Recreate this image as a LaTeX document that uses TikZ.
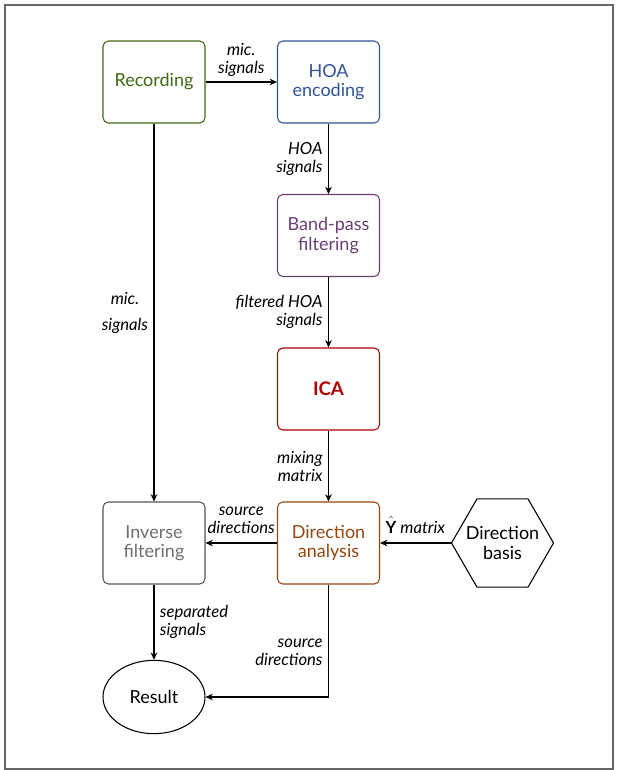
\documentclass[tikz,border=0pt]{standalone}
\usepackage{amsmath}
\usepackage{amssymb}
\usepackage{fontspec}
\setmainfont{Lato}
\usepackage{tikz}
\usepackage{xcolor}
\usetikzlibrary{shapes.geometric,arrows.meta}

\definecolor{recgreen}{HTML}{3E6B12}
\definecolor{hoablue}{HTML}{2F5496}
\definecolor{bandpurple}{HTML}{6B3F73}
\definecolor{icared}{HTML}{B00000}
\definecolor{dirbrown}{HTML}{94470F}
\definecolor{invgray}{HTML}{555555}

\begin{document}
\begin{tikzpicture}
  [x=0.75pt,y=-0.75pt,>={Stealth[length=5.5pt,width=5pt]},
   every node/.style={font=\fontsize{13.5}{14.5}\selectfont,align=center},
   block/.style={draw,rounded corners=4pt,line width=0.8pt,
     minimum width=76.5pt,minimum height=61.5pt,inner sep=0pt},
   lbl/.style={font=\fontsize{12.5}{13.5}\selectfont\itshape,inner sep=4pt},
   link/.style={->,line width=0.8pt}]

  \useasboundingbox (0,0) rectangle (618,770);
  \draw[gray!80!black,line width=1.1pt] (5,5) rectangle (613,769);

  \node[block,draw=recgreen,text=recgreen] (rec) at (154,82) {Recording};
  \node[block,draw=hoablue,text=hoablue] (hoa) at (328.5,82) {HOA\\encoding};
  \node[block,draw=bandpurple,text=bandpurple] (bp) at (328.5,235.5) {Band-pass\\filtering};
  \node[block,draw=icared,text=icared,font=\fontsize{14}{15}\selectfont\bfseries] (ica) at (328.5,389) {ICA};
  \node[block,draw=dirbrown,text=dirbrown] (dir) at (328.5,543) {Direction\\analysis};
  \node[block,draw=invgray,text=invgray!85] (inv) at (154,543) {Inverse\\filtering};
  \node[draw,regular polygon,regular polygon sides=6,minimum size=76.5pt,
    inner sep=0pt,line width=0.8pt,
    label={[align=center]center:Direction\\basis}] (basis) at (502.5,543) {};
  \node[draw,ellipse,minimum width=76.5pt,minimum height=55pt,
    inner sep=0pt,line width=0.8pt] (res) at (154,697) {Result};

  \draw[link] (rec) -- node[lbl,above] {mic.\\signals} (hoa);
  \draw[link] (hoa) -- node[lbl,left,align=right] {HOA\\signals} (bp);
  \draw[link] (bp) -- node[lbl,left,align=right] {filtered HOA\\signals} (ica);
  \draw[link] (ica) -- node[lbl,left,align=right] {mixing\\matrix} (dir);
  \draw[link] (rec) -- node[lbl,left] {mic.\\[6pt]signals} (inv);
  \draw[link] (dir) -- node[lbl,above,yshift=3pt] {source\\directions} (inv);
  \draw[link] (basis) -- node[lbl,above,yshift=3pt] {$\hat{\mathbf{Y}}$ matrix} (dir);
  \draw[link] (inv) -- node[lbl,right,align=left] {separated\\signals} (res);
  \draw[link] (dir) |- node[lbl,left,align=right,pos=0.3] {source\\directions} (res);
\end{tikzpicture}
\end{document}
